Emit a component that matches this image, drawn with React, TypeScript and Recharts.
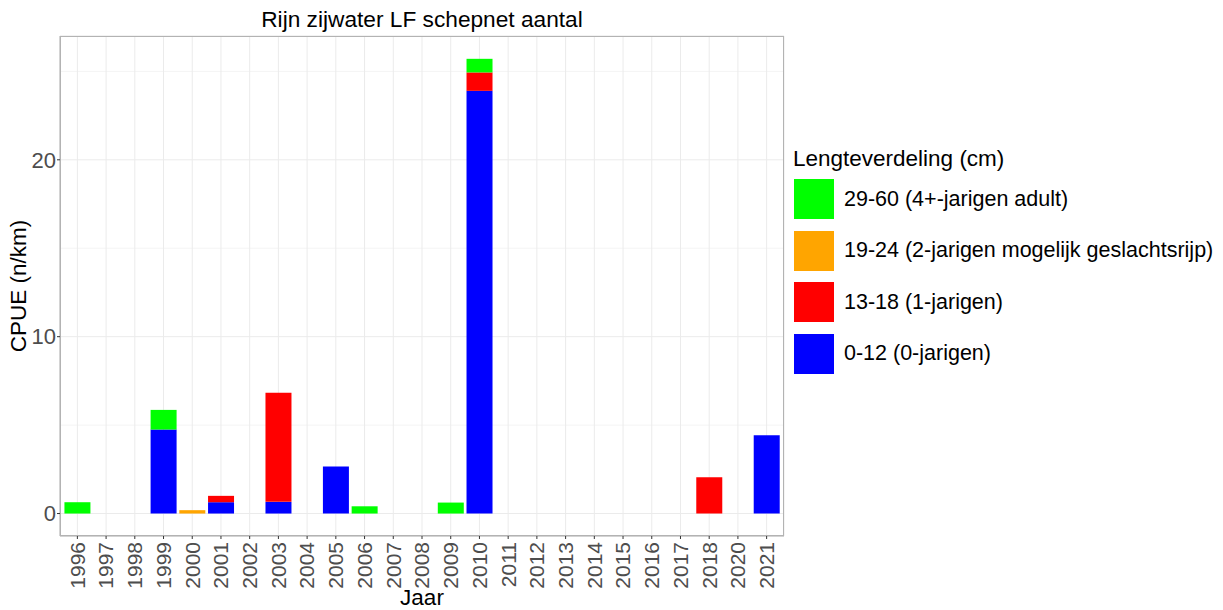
import { BarChart, Bar, XAxis, YAxis, CartesianGrid } from "recharts";

const jaren = [
  "1996", "1997", "1998", "1999", "2000", "2001", "2002", "2003", "2004", "2005",
  "2006", "2007", "2008", "2009", "2010", "2011", "2012", "2013", "2014", "2015",
  "2016", "2017", "2018", "2020", "2021",
];

// CPUE per lengteklasse (n/km)
const klasse0_12 = [0, 0, 0, 4.75, 0, 0.64, 0, 0.66, 0, 2.66, 0, 0, 0, 0, 23.9, 0, 0, 0, 0, 0, 0, 0, 0, 0, 4.43];
const klasse13_18 = [0, 0, 0, 0, 0, 0.36, 0, 6.17, 0, 0, 0, 0, 0, 0, 1.04, 0, 0, 0, 0, 0, 0, 0, 2.05, 0, 0];
const klasse19_24 = [0, 0, 0, 0, 0.19, 0, 0, 0, 0, 0, 0, 0, 0, 0, 0, 0, 0, 0, 0, 0, 0, 0, 0, 0, 0];
const klasse29_60 = [0.64, 0, 0, 1.11, 0, 0, 0, 0, 0, 0, 0.41, 0, 0, 0.62, 0.77, 0, 0, 0, 0, 0, 0, 0, 0, 0, 0];

const yTicks = [0, 10, 20];
const yMinor = [5, 15, 25];
const yDomain = [-1.27, 27];

// stapelvolgorde van onder naar boven
const reeksen = [
  { key: "k0", naam: "0-12 (0-jarigen)", kleur: "#0000FF" },
  { key: "k13", naam: "13-18 (1-jarigen)", kleur: "#FF0000" },
  { key: "k19", naam: "19-24 (2-jarigen mogelijk geslachtsrijp)", kleur: "#FFA500" },
  { key: "k29", naam: "29-60 (4+-jarigen adult)", kleur: "#00FF00" },
];

const data = jaren.map((jaar, i) => ({
  jaar,
  k0: klasse0_12[i],
  k13: klasse13_18[i],
  k19: klasse19_24[i],
  k29: klasse29_60[i],
}));

const font = "'Liberation Sans', Arial, sans-serif";

const JaarTick = (props: any) => {
  const { x, payload } = props;
  return (
    <g transform={`translate(${x},542)`}>
      <text
        x={0}
        y={0}
        dy="0.35em"
        textAnchor="end"
        transform="rotate(-90)"
        fill="#4d4d4d"
        fontSize={21}
        fontFamily={font}
      >
        {payload.value}
      </text>
    </g>
  );
};

const App = () => {
  return (
    <div style={{ position: "absolute", left: 0, top: 0, width: 1223, height: 610, background: "#fff", fontFamily: font }}>
      <BarChart
        width={1223}
        height={610}
        data={data}
        margin={{ top: 36, right: 439, bottom: 10, left: 10 }}
        barCategoryGap="5%"
      >
        <CartesianGrid stroke="#f4f4f4" vertical={false} yAxisId="minor" />
        <CartesianGrid stroke="#ebebeb" yAxisId="main" />
        <XAxis
          dataKey="jaar"
          height={64}
          interval={0}
          padding={{ left: 3, right: 3 }}
          tickLine={{ stroke: "#333333" }}
          tickSize={3}
          axisLine={{ stroke: "#b3b3b3" }}
          tick={<JaarTick />}
        />
        <YAxis
          yAxisId="minor"
          hide
          domain={yDomain}
          ticks={yMinor}
          allowDataOverflow
        />
        <YAxis
          yAxisId="main"
          width={50}
          domain={yDomain}
          ticks={yTicks}
          allowDataOverflow
          tickLine={{ stroke: "#333333" }}
          tickSize={3}
          tickMargin={1}
          axisLine={{ stroke: "#b3b3b3" }}
          tick={{ fill: "#4d4d4d", fontSize: 22, fontFamily: font }}
        />
        {reeksen.map((r) => (
          <Bar key={r.key} dataKey={r.key} stackId="a" yAxisId="main" fill={r.kleur} isAnimationActive={false} />
        ))}
      </BarChart>

      {/* kader rond plotgebied */}
      <div
        style={{
          position: "absolute",
          left: 60,
          top: 36,
          width: 724,
          height: 500,
          boxSizing: "border-box",
          border: "1px solid #b3b3b3",
          pointerEvents: "none",
        }}
      />

      <div style={{ position: "absolute", left: 60, width: 724, top: 6, textAlign: "center", fontSize: 22.7, color: "#000" }}>
        Rijn zijwater LF schepnet aantal
      </div>

      <div
        style={{
          position: "absolute",
          left: 19,
          top: 286,
          transform: "translate(-50%, -50%) rotate(-90deg)",
          fontSize: 22.5,
          whiteSpace: "nowrap",
          color: "#000",
        }}
      >
        CPUE (n/km)
      </div>

      <div style={{ position: "absolute", left: 60, width: 724, top: 585, textAlign: "center", fontSize: 22.5, color: "#000" }}>
        Jaar
      </div>

      <div style={{ position: "absolute", left: 793, top: 146, fontSize: 22.5, lineHeight: "26px", color: "#000", whiteSpace: "nowrap" }}>
        Lengteverdeling (cm)
      </div>
      {[...reeksen].reverse().map((r, i) => (
        <div
          key={r.key}
          style={{ position: "absolute", left: 794, top: 179 + i * 51.6, height: 40, display: "flex", alignItems: "center" }}
        >
          <div style={{ width: 40, height: 40, background: r.kleur }} />
          <div style={{ marginLeft: 10, fontSize: 21.5, color: "#000", whiteSpace: "nowrap" }}>{r.naam}</div>
        </div>
      ))}
    </div>
  );
};

export default App;
